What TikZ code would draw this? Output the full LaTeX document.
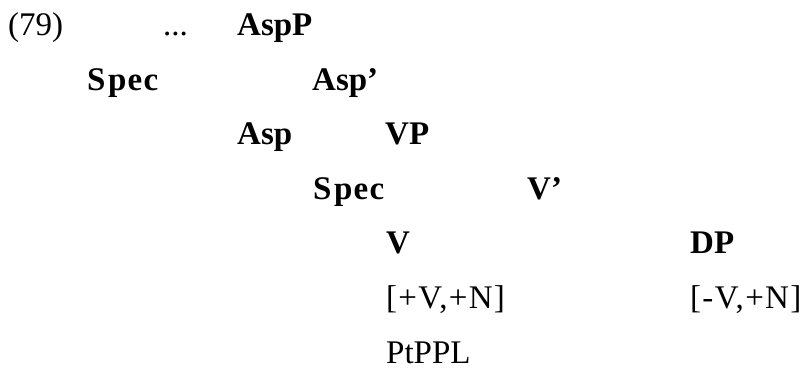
\documentclass[tikz,border=0pt]{standalone}
\usepackage{fontspec}
\setmainfont{Liberation Serif}
\newcommand{\specword}{S\hspace{2.5pt}pec}
\begin{document}
\begin{tikzpicture}[x=1pt,y=1pt,
  lbl/.style={anchor=base west,inner sep=0pt,font=\fontsize{33}{38}\selectfont},
  cat/.style={lbl,font=\fontsize{33}{38}\selectfont\bfseries},
  spaced/.style={lbl,font=\fontsize{33}{38}\selectfont\addfontfeature{LetterSpace=4}},
  specst/.style={lbl,font=\fontsize{33}{38}\selectfont\bfseries\addfontfeature{LetterSpace=4}}]
\useasboundingbox (0,0) rectangle (803,-374);
\node[lbl] (num) at (8,-36) {(79)};
\node[lbl] (dots) at (163,-36) {...};
\node[cat] (aspp) at (237,-36) {AspP};
\node[specst] (spec1) at (87,-90.5) {\specword};
\node[cat] (aspbar) at (312,-90.5) {Asp'};
\node[cat] (asp) at (237,-145) {Asp};
\node[cat] (vp) at (385,-145) {VP};
\node[specst] (spec2) at (313,-199.5) {\specword};
\node[cat] (vbar) at (527,-199.5) {V'};
\node[cat] (v) at (386,-254) {V};
\node[cat] (dp) at (690,-254) {DP};
\node[spaced] (vfeat) at (386,-308.5) {[+V,+N]};
\node[spaced] (dpfeat) at (690,-308.5) {[-V,+N]};
\node[lbl] (ptppl) at (386,-363) {PtPPL};
\end{tikzpicture}
\end{document}
